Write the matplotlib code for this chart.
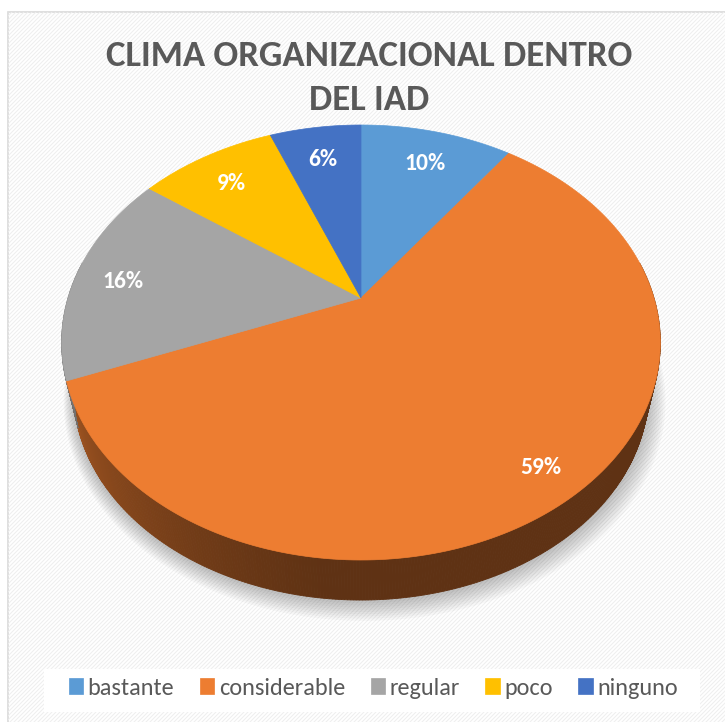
import numpy as np
import matplotlib.pyplot as plt
from matplotlib.patches import Polygon, Rectangle
from matplotlib.collections import LineCollection

# data
categories = ['bastante', 'considerable', 'regular', 'poco', 'ninguno']
percentages = [10, 59, 16, 9, 6]
colors = ['#5B9BD5', '#ED7D31', '#A5A5A5', '#FFC000', '#4472C4']
title = 'CLIMA ORGANIZACIONAL DENTRO\nDEL IAD'

FONT = ['Carlito', 'DejaVu Sans']

W, H = 725, 722
fig = plt.figure(figsize=(W / 100, H / 100), dpi=100)
ax = fig.add_axes([0, 0, 1, 1])
ax.set_xlim(0, W)
ax.set_ylim(H, 0)
ax.axis('off')

# chart area with light diagonal stripes
area = Rectangle((8, 12), 740, 730, facecolor='white', edgecolor='#d9d9d9', lw=1.2, zorder=0)
ax.add_patch(area)
segs = [[(c - 760, 760), (c, 0)] for c in range(0, 1600, 4)]
lc = LineCollection(segs, colors='#eeeeee', linewidths=0.7, zorder=0.5)
ax.add_collection(lc)
lc.set_clip_path(area)

# perspective pie geometry (pixels)
cx, cy = 361, 298
a, b, k = 293, 208.4, 0.2046
bs, bdy = 0.96, 50.5   # bottom rim: scale and drop


def proj(theta, r=1.0):
    X = r * np.sin(theta)
    Y = r * np.cos(theta)
    s = 1 + k * Y
    return cx + a * X / s, cy - b * Y / s


def proj_bottom(theta, r=1.0):
    x, y = proj(theta, r)
    return cx + bs * (x - cx), cy + bdy + bs * (y - cy)


def shade(hexcol, f):
    c = np.array([int(hexcol[i:i + 2], 16) for i in (1, 3, 5)]) / 255.0
    return tuple(np.clip(c * f, 0, 1))


bounds = np.concatenate([[0], np.cumsum(percentages)]) / sum(percentages) * 2 * np.pi
t_right = np.radians(80)
t_left = np.radians(280)

# soft shadow under the pie
tt = np.linspace(0, 2 * np.pi, 300)
for i in range(10):
    r = 1.0 + i * 0.005
    xs, ys = proj_bottom(tt, r)
    ys = ys + 1 + i * 0.6
    xs = xs + i * 0.4
    ax.add_patch(Polygon(np.column_stack([xs, ys]), closed=True, facecolor='#000000',
                         edgecolor='none', alpha=0.028, zorder=1))

# side wall
for i in range(len(percentages)):
    t0 = max(bounds[i], t_right)
    t1 = min(bounds[i + 1], t_left)
    if t1 <= t0:
        continue
    ts = np.linspace(t0, t1, max(3, int((t1 - t0) * 120)))
    for j in range(len(ts) - 1):
        tm = 0.5 * (ts[j] + ts[j + 1])
        deg = np.degrees(tm)
        f = 0.40 + 0.30 * np.clip((deg - 185) / 70, 0, 1) ** 1.2
        x0, y0 = proj(ts[j])
        x1, y1 = proj(ts[j + 1])
        bx0, by0 = proj_bottom(ts[j])
        bx1, by1 = proj_bottom(ts[j + 1])
        quad = [(x0, y0), (x1, y1), (bx1, by1), (bx0, by0)]
        ax.add_patch(Polygon(quad, closed=True, facecolor=shade(colors[i], f),
                             edgecolor=shade(colors[i], f), lw=0.6, zorder=2))

# top face
handles = []
for i in range(len(percentages)):
    ts = np.linspace(bounds[i], bounds[i + 1], 200)
    xs, ys = proj(ts)
    pts = np.column_stack([np.concatenate([[cx], xs]), np.concatenate([[cy], ys])])
    p = Polygon(pts, closed=True, facecolor=colors[i], edgecolor=colors[i], lw=0.5, zorder=3)
    ax.add_patch(p)
    handles.append(p)

# data labels
for i, v in enumerate(percentages):
    tm = 0.5 * (bounds[i] + bounds[i + 1])
    ex, ey = proj(tm)
    lx = cx + 0.84 * (ex - cx)
    ly = cy + 0.84 * (ey - cy) + 5
    ax.text(lx, ly, f'{v}%', ha='center', va='center', color='white', fontsize=17,
            fontweight='bold', family=FONT, zorder=5)

# title
ax.text(369, 78, title, ha='center', va='center', color='#595959', fontsize=26.5,
        fontweight='bold', linespacing=1.45, family=FONT, zorder=5)

# legend box
ax.add_patch(Rectangle((44, 669), 656, 43, facecolor='white', edgecolor='none', zorder=4))
leg = ax.legend(handles, categories, ncol=5, loc='center', bbox_to_anchor=(0.515, 0.047),
                bbox_transform=fig.transFigure, frameon=False, handlelength=0.58,
                handleheight=0.58, handletextpad=0.2, columnspacing=1.05,
                prop={'family': FONT, 'size': 17.5})
for t in leg.get_texts():
    t.set_color('#595959')
leg.set_zorder(6)

fig.savefig('out.png', dpi=100)
